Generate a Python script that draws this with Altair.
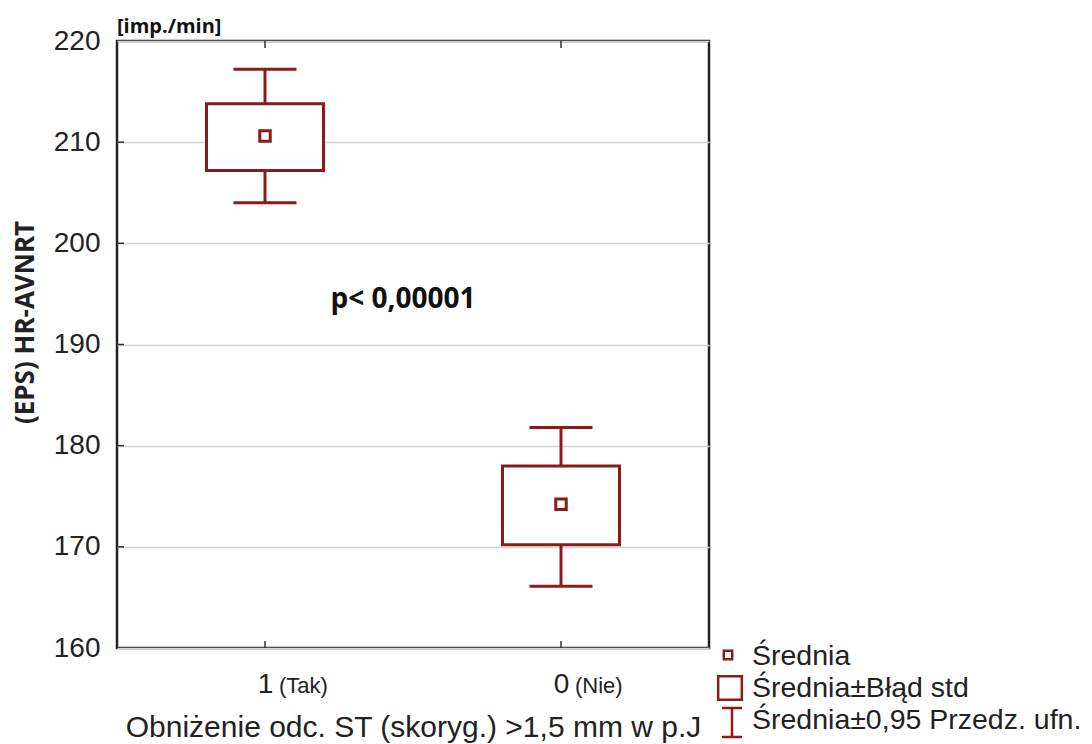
import altair as alt
import pandas as pd

# ---- data ----
groups = ["1", "0"]
group_notes = ["(Tak)", "(Nie)"]
group_pos = [0.5, 1.5]
mean_val = [210.6, 174.2]
se_low = [207.2, 170.2]
se_high = [213.8, 178.0]
ci_low = [204.0, 166.1]
ci_high = [217.2, 181.8]
y_ticks = [160, 170, 180, 190, 200, 210, 220]
inner_y_ticks = [170, 180, 190, 200, 210]

y_title = "(EPS) HR-AVNRT"
x_title = "Obniżenie odc. ST (skoryg.) >1,5 mm w p.J"
unit_text = "[imp./min]"
p_text = "p< 0,00001"
p_pos = (0.966, 194.4)
legend_labels = ["Średnia", "Średnia±Błąd std", "Średnia±0,95 Przedz. ufn."]

RED = "#8b1a1a"
INK = "#222222"
W, H = 592, 607

df = pd.DataFrame({
    "group": groups, "note": group_notes, "pos": group_pos,
    "mean": mean_val, "se_low": se_low, "se_high": se_high,
    "ci_low": ci_low, "ci_high": ci_high,
})

label_expr = f"'{groups[-1]}'"
for p, g in reversed(list(zip(group_pos[:-1], groups[:-1]))):
    label_expr = f"datum.value == {p} ? '{g}' : " + label_expr

x_scale = alt.Scale(domain=[0, 2], nice=False, zero=False, padding=0)
x_enc = alt.X(
    "pos:Q",
    scale=x_scale,
    axis=alt.Axis(
        values=group_pos, labelExpr=label_expr, grid=False, ticks=False, tickSize=0,
        domain=False, labelFontSize=28, labelPadding=22, labelFont="Liberation Sans",
        labelColor=INK, title=x_title, titleFont="Liberation Sans", titleFontSize=30,
        titleFontWeight="normal", titleColor=INK, titleBaseline="alphabetic",
        titleY=88, titleX=W / 2, titleAlign="center",
    ),
)
y_scale = alt.Scale(domain=[160, 220], nice=False, zero=False)
y_axis = alt.Axis(
    values=y_ticks, grid=True, gridColor="#d4d4d4", gridWidth=1.5, ticks=False, tickSize=0,
    domain=False, labelFontSize=28, labelPadding=17, labelFont="Liberation Sans",
    labelColor=INK, title=y_title, titleFont="Open Sans", titleFontSize=26,
    titleFontWeight="bold", titleColor=INK, titleAngle=270, titleX=-92, titleY=281,
    titleAlign="center", titleBaseline="middle",
)

base = alt.Chart(df)

whisker = base.mark_rule(color=RED, strokeWidth=3).encode(
    x=x_enc, y=alt.Y("ci_low:Q", scale=y_scale, axis=y_axis), y2="ci_high:Q"
)
cap_lo = base.mark_tick(orient="horizontal", size=63, thickness=3, color=RED, opacity=1).encode(
    x="pos:Q", y="ci_low:Q"
)
cap_hi = base.mark_tick(orient="horizontal", size=63, thickness=3, color=RED, opacity=1).encode(
    x="pos:Q", y="ci_high:Q"
)
box = base.mark_bar(size=117, fill="white", stroke=RED, strokeWidth=3).encode(
    x="pos:Q", y="se_low:Q", y2="se_high:Q"
)
mean_pt = base.mark_square(size=110, fill="white", stroke=RED, strokeWidth=3, opacity=1).encode(
    x="pos:Q", y="mean:Q"
)
notes = base.mark_text(align="left", baseline="alphabetic", dx=14, fontSize=22,
                       font="Liberation Sans", color=INK).encode(
    x="pos:Q", y=alt.value(H + 45), text="note:N"
)

# inward frame ticks
ytick_df = pd.DataFrame({"v": inner_y_ticks})
ytick_marks = alt.Chart(ytick_df).mark_tick(orient="horizontal", size=7, thickness=1.5,
                                             color="#333", opacity=1).encode(
    y="v:Q", x=alt.value(3.5)
)
xtick_bottom = base.mark_tick(orient="vertical", size=7, thickness=1.5, color="#333", opacity=1).encode(
    x="pos:Q", y=alt.value(H - 3.5)
)
xtick_top = base.mark_tick(orient="vertical", size=7, thickness=1.5, color="#333", opacity=1).encode(
    x="pos:Q", y=alt.value(3.5)
)

one = pd.DataFrame({"a": [0]})
ann_df = pd.DataFrame({"x": [p_pos[0]], "y": [p_pos[1]], "t": [p_text]})
p_mark = alt.Chart(ann_df).mark_text(font="Open Sans", fontWeight="bold", fontSize=28,
                                     color="#111", align="center", baseline="middle").encode(
    x="x:Q", y="y:Q", text="t:N"
)
unit_mark = alt.Chart(one).mark_text(font="Open Sans", fontWeight="bold", fontSize=20,
                                     color="#111", align="left", baseline="alphabetic").encode(
    x=alt.value(0), y=alt.value(-8), text=alt.value(unit_text)
)

# legend (drawn manually to the right of the plot)
leg_text_x = 635
leg_base = [624, 656, 688]
leg_texts = [
    alt.Chart(one).mark_text(font="Liberation Sans", fontSize=28.5, color=INK, align="left",
                             baseline="alphabetic").encode(
        x=alt.value(leg_text_x), y=alt.value(b), text=alt.value(t))
    for t, b in zip(legend_labels, leg_base)
]
leg_small = alt.Chart(one).mark_square(size=70, fill="white", stroke=RED, strokeWidth=2.5, opacity=1).encode(
    x=alt.value(611), y=alt.value(614)
)
leg_big = alt.Chart(one).mark_square(size=560, fill="white", stroke=RED, strokeWidth=2.5, opacity=1).encode(
    x=alt.value(613), y=alt.value(647)
)
leg_bar = alt.Chart(one).mark_rule(color=RED, strokeWidth=2.5).encode(
    x=alt.value(615), y=alt.value(667), y2=alt.value(696)
)
leg_cap1 = alt.Chart(one).mark_rule(color=RED, strokeWidth=2.5).encode(
    x=alt.value(605), x2=alt.value(625), y=alt.value(667)
)
leg_cap2 = alt.Chart(one).mark_rule(color=RED, strokeWidth=2.5).encode(
    x=alt.value(605), x2=alt.value(625), y=alt.value(696)
)

chart = alt.layer(
    whisker, cap_lo, cap_hi, box, mean_pt, notes,
    ytick_marks, xtick_bottom, xtick_top, p_mark, unit_mark,
    *leg_texts, leg_small, leg_big, leg_bar, leg_cap1, leg_cap2,
).properties(
    width=W, height=H,
    autosize=alt.AutoSizeParams(type="none"),
    padding={"left": 117, "top": 41, "right": 383, "bottom": 96},
    background="white",
).configure_view(
    stroke="#222", strokeWidth=2.5
)

chart.save("out.html", embed_options={"renderer": "svg", "actions": False})
